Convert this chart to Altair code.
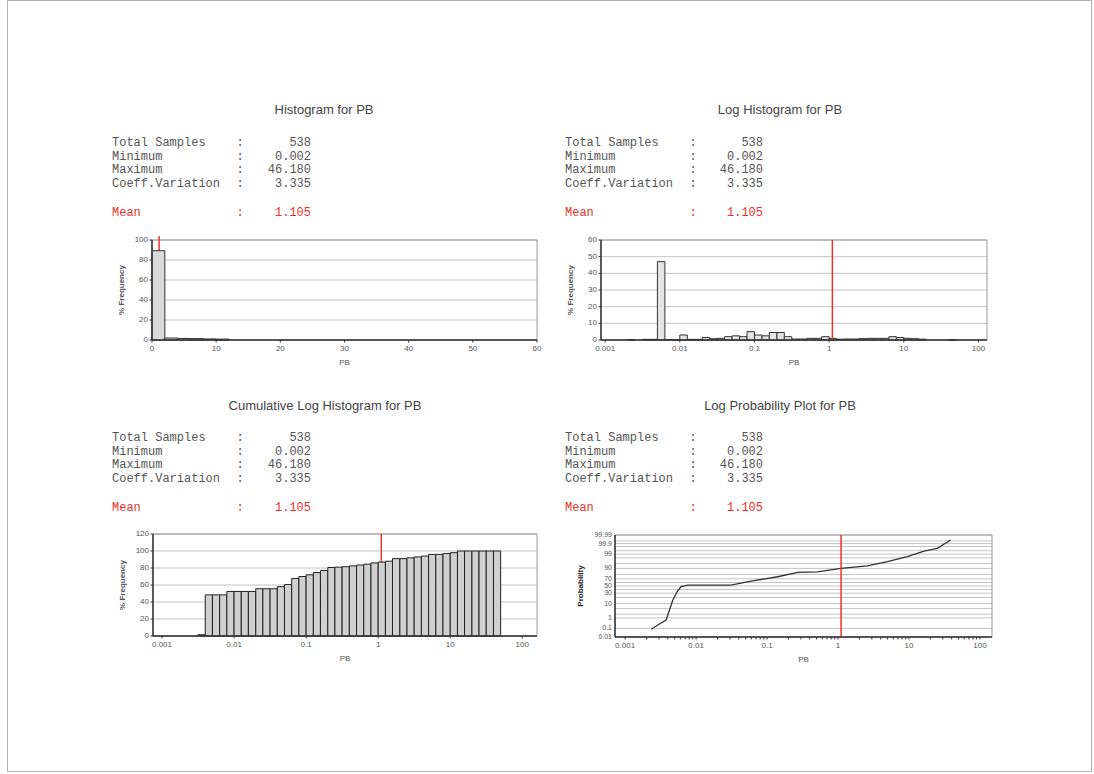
import altair as alt
import pandas as pd

# ---------------- text ----------------
titles = ["Histogram for PB", "Log Histogram for PB",
          "Cumulative Log Histogram for PB", "Log Probability Plot for PB"]
stat_names = ["Total Samples", "Minimum", "Maximum", "Coeff.Variation"]
stat_values = ["538", "0.002", "46.180", "3.335"]
mean_name = "Mean"
mean_text = "1.105"
mean_pb = 1.105
x_title = "PB"
y_title_freq = "% Frequency"
y_title_prob = "Probability"

# ---------------- linear histogram ----------------
lin_lo = [0, 2, 4, 6, 8, 10]
lin_hi = [2, 4, 6, 8, 10, 12]
lin_pct = [89.3, 2.0, 1.6, 1.4, 1.1, 0.9]
lin_x_ticks = [0, 10, 20, 30, 40, 50, 60]
lin_y_ticks = [0, 20, 40, 60, 80, 100]

# ---------------- log bins ----------------
log_edges = [0.002, 0.00251, 0.00316, 0.00398, 0.00501, 0.00631, 0.00794, 0.01,
             0.0126, 0.0158, 0.02, 0.0251, 0.0316, 0.0398, 0.0501, 0.0631, 0.0794,
             0.1, 0.126, 0.158, 0.2, 0.251, 0.316, 0.398, 0.501, 0.631, 0.794,
             1.0, 1.26, 1.58, 2.0, 2.51, 3.16, 3.98, 5.01, 6.31, 7.94, 10.0,
             12.6, 15.8, 20.0, 25.1, 31.6, 39.8, 50.1]
loghist_pct = [0.3, 0, 0.4, 0.4, 47, 0.3, 0.3, 3, 0.4, 0.4, 1.5, 0.8, 1, 2, 2.5,
               2, 5, 3, 2.5, 4.5, 4.5, 2, 0.6, 0.6, 1, 1, 2, 1, 0.5, 0.6, 0.6,
               0.8, 1, 1, 1, 2, 1.5, 1, 0.8, 0.5, 0, 0, 0, 0.2]
cum_pct = [0, 0, 1.5, 48.4, 48.4, 48.4, 52.4, 52.4, 52.4, 52.4, 55.6, 55.6, 55.6,
           58, 60.5, 67.7, 70, 72, 74.6, 77, 80.6, 81, 81.5, 82.5, 83.5, 84.5,
           86, 87, 88, 91, 91, 92, 93, 94, 96, 96, 97, 98, 100, 100, 100, 100,
           100, 100]
log_ticks = [0.001, 0.01, 0.1, 1, 10, 100]
loghist_y_ticks = [0, 10, 20, 30, 40, 50, 60]
cum_y_ticks = [0, 20, 40, 60, 80, 100, 120]
minor_ticks = [0.001, 0.002, 0.003, 0.004, 0.005, 0.006, 0.007, 0.008, 0.009,
               0.01, 0.02, 0.03, 0.04, 0.05, 0.06, 0.07, 0.08, 0.09,
               0.1, 0.2, 0.3, 0.4, 0.5, 0.6, 0.7, 0.8, 0.9,
               1, 2, 3, 4, 5, 6, 7, 8, 9, 10, 20, 30, 40, 50, 60, 70, 80, 90, 100]

# ---------------- probability plot ----------------
prob_pb = [0.00233, 0.00289, 0.00378, 0.00422, 0.0047, 0.0054, 0.00615, 0.00764,
           0.031, 0.0594, 0.141, 0.27, 0.515, 1.1, 2.6, 4.97, 9.5, 16.3, 25.1, 38.6]
prob_cum = [0.08, 0.22, 0.66, 4.0, 15.4, 33.8, 48.0, 52.8, 52.8, 64.0, 75.0, 84.0,
            85.0, 90.0, 92.8, 96.2, 98.4, 99.46, 99.70, 99.96]
prob_grid = [0.01, 0.1, 1, 2, 5, 10, 20, 30, 40, 50, 60, 70, 80, 90, 95, 98, 99,
             99.5, 99.8, 99.9, 99.95, 99.99]
prob_label_vals = [0.01, 0.1, 1, 10, 30, 50, 70, 90, 99, 99.9, 99.99]

# ---------------- style ----------------
RED = "#e8322e"
GRID = "#c4c4c4"
AX = "#333333"
LBL = "#555555"
SANS = "Liberation Sans"
MONO = "Liberation Mono"
W, H = 1094, 774

boxes = [dict(x0=152, x1=537, y0=240, y1=340),
         dict(x0=601, x1=987, y0=240, y1=340),
         dict(x0=153, x1=537, y0=534, y1=636),
         dict(x0=615, x1=992, y0=535, y1=637)]


def one():
    return alt.Data(values=[{"k": 1}])


def text_at(x, y, text, **kw):
    return alt.Chart(one()).mark_text(**kw).encode(
        x=alt.value(x), y=alt.value(y), text=alt.value(text))


def rule_at(x, x2, y, y2, color=AX, width=1.5):
    return alt.Chart(one()).mark_rule(color=color, strokeWidth=width).encode(
        x=alt.value(x), x2=alt.value(x2), y=alt.value(y), y2=alt.value(y2))


def frame(b):
    return alt.Chart(one()).mark_rect(fillOpacity=0, stroke="#9a9a9a", strokeWidth=1).encode(
        x=alt.value(b["x0"]), x2=alt.value(b["x1"]), y=alt.value(b["y0"]), y2=alt.value(b["y1"]))


def x_axis_layers(b, scale, ticks, label_ticks, log=False):
    """tick marks, tick labels, domain line and title, all placed through the scale"""
    lab_df = pd.DataFrame({"v": label_ticks})
    fmt = "format(datum.v, '~g')"
    tick_mk = alt.Chart(pd.DataFrame({"v": ticks})).mark_rule(color=AX, strokeWidth=1).encode(
        x=alt.X("v:Q", scale=scale, axis=None),
        y=alt.value(b["y1"]), y2=alt.value(b["y1"] + 2.5))
    labels = alt.Chart(lab_df).transform_calculate(t=fmt).mark_text(
        align="center", baseline="top", font=SANS, fontSize=8, color=LBL).encode(
        x=alt.X("v:Q", scale=scale, axis=None), y=alt.value(b["y1"] + 5), text="t:N")
    dom = rule_at(b["x0"], b["x1"], b["y1"], b["y1"])
    title = text_at((b["x0"] + b["x1"]) / 2, b["y1"] + 23, x_title, align="center",
                    baseline="middle", font=SANS, fontSize=8, color=LBL)
    return [tick_mk, labels, dom, title]


def y_axis_layers(b, scale, ticks, title=y_title_freq):
    df = pd.DataFrame({"v": ticks})
    tick_mk = alt.Chart(df).mark_rule(color=AX, strokeWidth=1).encode(
        y=alt.Y("v:Q", scale=scale, axis=None),
        x=alt.value(b["x0"] - 2.5), x2=alt.value(b["x0"]))
    labels = alt.Chart(df).transform_calculate(t="format(datum.v, '~g')").mark_text(
        align="right", baseline="middle", font=SANS, fontSize=8, color=LBL).encode(
        y=alt.Y("v:Q", scale=scale, axis=None), x=alt.value(b["x0"] - 4), text="t:N")
    dom = rule_at(b["x0"], b["x0"], b["y0"], b["y1"])
    ttl = text_at(b["x0"] - 30, (b["y0"] + b["y1"]) / 2, title, align="center",
                  baseline="middle", angle=270, font=SANS, fontSize=8, fontWeight="bold",
                  color=LBL)
    return [tick_mk, labels, dom, ttl]


def stats(xl, xc, xr, y0):
    lh = 13.5
    layers = []
    for i, (n, v) in enumerate(zip(stat_names, stat_values)):
        y = y0 + i * lh
        layers.append(text_at(xl, y, n, align="left", baseline="middle", font=MONO, fontSize=12, color="#555"))
        layers.append(text_at(xc, y, ":", align="center", baseline="middle", font=MONO, fontSize=12, color="#555"))
        layers.append(text_at(xr, y, v, align="right", baseline="middle", font=MONO, fontSize=12, color="#555"))
    ym = y0 + 3 * lh + 29.5
    layers.append(text_at(xl, ym, mean_name, align="left", baseline="middle", font=MONO, fontSize=12, color=RED))
    layers.append(text_at(xc, ym, ":", align="center", baseline="middle", font=MONO, fontSize=12, color=RED))
    layers.append(text_at(xr, ym, mean_text, align="right", baseline="middle", font=MONO, fontSize=12, color=RED))
    return layers


def hgrid(b, scale, ticks):
    return alt.Chart(pd.DataFrame({"v": ticks})).mark_rule(color=GRID, strokeWidth=1).encode(
        y=alt.Y("v:Q", scale=scale, axis=None),
        x=alt.value(b["x0"]), x2=alt.value(b["x1"]))


def mean_rule(b, scale, top=None):
    return alt.Chart(one()).mark_rule(color=RED, strokeWidth=1.5).encode(
        x=alt.X(datum=mean_pb, scale=scale, axis=None),
        y=alt.value(b["y0"] if top is None else top), y2=alt.value(b["y1"]))


# ---------------- panel 1 ----------------
b = boxes[0]
xs1 = alt.Scale(type="linear", domain=[0, 60], range=[b["x0"], b["x1"]], nice=False, zero=False)
ys1 = alt.Scale(domain=[0, 100], range=[b["y1"], b["y0"]], nice=False)
df1 = pd.DataFrame({"lo": lin_lo, "hi": lin_hi, "pct": lin_pct})
bars1 = alt.Chart(df1).mark_bar(fill="#d9d9d9", stroke=AX, strokeWidth=1).encode(
    x=alt.X("lo:Q", scale=xs1, axis=None), x2="hi:Q",
    y=alt.Y("pct:Q", scale=ys1, axis=None), y2=alt.Y2(datum=0))
p1 = alt.layer(hgrid(b, ys1, lin_y_ticks), frame(b), mean_rule(b, xs1, top=236), bars1,
               *x_axis_layers(b, xs1, lin_x_ticks, lin_x_ticks),
               *y_axis_layers(b, ys1, lin_y_ticks))

# ---------------- panel 2 ----------------
b = boxes[1]
xs2 = alt.Scale(type="log", domain=[0.00088, 130], range=[b["x0"], b["x1"]], nice=False, zero=False)
ys2 = alt.Scale(domain=[0, 60], range=[b["y1"], b["y0"]], nice=False)
df2 = pd.DataFrame({"lo": log_edges[:-1], "hi": log_edges[1:], "pct": loghist_pct})
df2 = df2[df2["pct"] > 0]
bars2 = alt.Chart(df2).mark_bar(fill="#e4e4e4", stroke=AX, strokeWidth=1).encode(
    x=alt.X("lo:Q", scale=xs2, axis=None), x2="hi:Q",
    y=alt.Y("pct:Q", scale=ys2, axis=None), y2=alt.Y2(datum=0))
p2 = alt.layer(hgrid(b, ys2, loghist_y_ticks), frame(b), bars2, mean_rule(b, xs2),
               *x_axis_layers(b, xs2, log_ticks, log_ticks),
               *y_axis_layers(b, ys2, loghist_y_ticks))

# ---------------- panel 3 ----------------
b = boxes[2]
xs3 = alt.Scale(type="log", domain=[0.00075, 160], range=[b["x0"], b["x1"]], nice=False, zero=False)
ys3 = alt.Scale(domain=[0, 120], range=[b["y1"], b["y0"]], nice=False)
df3 = pd.DataFrame({"lo": log_edges[:-1], "hi": log_edges[1:], "pct": cum_pct})
df3 = df3[df3["pct"] > 0]
bars3 = alt.Chart(df3).mark_bar(fill="#d0d0d0", stroke="#222", strokeWidth=1).encode(
    x=alt.X("lo:Q", scale=xs3, axis=None), x2="hi:Q",
    y=alt.Y("pct:Q", scale=ys3, axis=None), y2=alt.Y2(datum=0))
p3 = alt.layer(hgrid(b, ys3, cum_y_ticks), frame(b), mean_rule(b, xs3), bars3,
               *x_axis_layers(b, xs3, log_ticks, log_ticks),
               *y_axis_layers(b, ys3, cum_y_ticks))

# ---------------- panel 4 ----------------
b = boxes[3]
xs4 = alt.Scale(type="log", domain=[0.00072, 148], range=[b["x0"], b["x1"]], nice=False, zero=False)
ys4 = alt.Scale(domain=[-3.719, 3.719], range=[b["y1"], b["y0"]], nice=False, zero=False)
grid4 = alt.Chart(pd.DataFrame({"p": prob_grid})).transform_calculate(
    z="quantileNormal(datum.p / 100)").mark_rule(color=GRID, strokeWidth=1).encode(
    y=alt.Y("z:Q", scale=ys4, axis=None),
    x=alt.value(b["x0"]), x2=alt.value(b["x1"]))
lab4 = alt.Chart(pd.DataFrame({"p": prob_label_vals})).transform_calculate(
    z="quantileNormal(datum.p / 100)", t="format(datum.p, '~g')").mark_text(
    align="right", baseline="middle", font=SANS, fontSize=7, color=LBL).encode(
    y=alt.Y("z:Q", scale=ys4, axis=None), x=alt.value(b["x0"] - 3), text="t:N")
line4 = alt.Chart(pd.DataFrame({"pb": prob_pb, "cum": prob_cum})).transform_calculate(
    z="quantileNormal(datum.cum / 100)").mark_line(color="#333", strokeWidth=1.3).encode(
    x=alt.X("pb:Q", scale=xs4, axis=None),
    y=alt.Y("z:Q", scale=ys4, axis=None), order="pb:Q")
ydom4 = rule_at(b["x0"], b["x0"], b["y0"], b["y1"])
ytitle4 = text_at(b["x0"] - 34, (b["y0"] + b["y1"]) / 2, y_title_prob, align="center",
                  baseline="middle", angle=270, font=SANS, fontSize=8, fontWeight="bold",
                  color="#222")
p4 = alt.layer(grid4, frame(b), lab4, line4, mean_rule(b, xs4),
               *x_axis_layers(b, xs4, minor_ticks, log_ticks), ydom4, ytitle4)

# ---------------- texts ----------------
texts = [
    text_at(324, 110, titles[0], align="center", baseline="middle", font=SANS, fontSize=13, color="#444"),
    text_at(780, 110, titles[1], align="center", baseline="middle", font=SANS, fontSize=13, color="#444"),
    text_at(325, 406, titles[2], align="center", baseline="middle", font=SANS, fontSize=13, color="#444"),
    text_at(780, 406, titles[3], align="center", baseline="middle", font=SANS, fontSize=13, color="#444"),
]
texts += stats(112, 240, 311, 142)
texts += stats(565, 693, 763, 142)
texts += stats(112, 240, 311, 437)
texts += stats(565, 693, 763, 437)

page = alt.Chart(one()).mark_rect(fillOpacity=0, stroke="#b0b0b0", strokeWidth=1).encode(
    x=alt.value(7.5), x2=alt.value(1091.5), y=alt.value(0.5), y2=alt.value(771.5))

chart = alt.layer(page, p1, p2, p3, p4, *texts).resolve_scale(
    x="independent", y="independent").properties(
    width=W, height=H, autosize=alt.AutoSizeParams(type="none"), padding=0,
    background="white").configure_view(stroke=None)

chart.save("out.html", embed_options={"renderer": "svg", "actions": False})
